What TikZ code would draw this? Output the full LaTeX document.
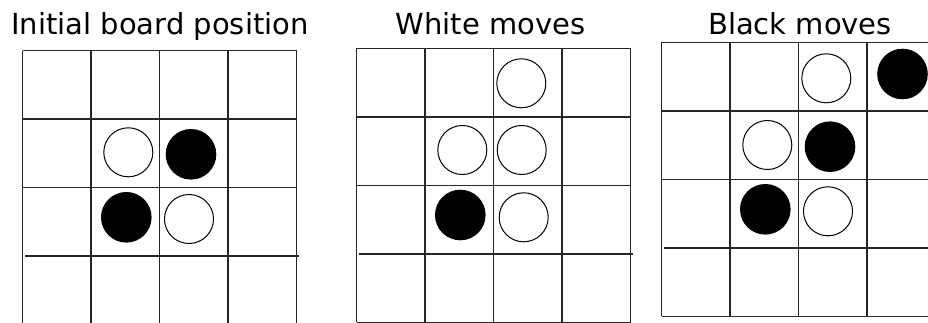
\documentclass[tikz,border=0pt]{standalone}
\usepackage{fontspec}
\setsansfont{DejaVu Sans}

\begin{document}
\begin{tikzpicture}[x=1pt, y=-1pt,
    gridline/.style={draw=black!85, line width=1.5pt},
    title/.style={font=\sffamily\fontsize{29}{34}\selectfont, anchor=base,
                  inner sep=0pt},
    wstone/.style={draw=black, line width=1pt, fill=white},
    bstone/.style={fill=black}]
  \useasboundingbox (0,0) rectangle (928,323);
  \clip (0,0) rectangle (928,323);
  \node[title] (init)  at (160,34.5)   {Initial board position};
  \node[title] (white) at (490.5,34.5) {White moves};
  \node[title] (black) at (800,34.5)   {Black moves};
  \foreach \bx/\by in {22.7/50.7, 356.7/48.3, 661.7/42.3} {
    \foreach \i in {0,...,4}
      \draw[gridline] (\bx+\i*68.5,\by) -- ++(0,274);
    \foreach \j in {0,1,2,4}
      \draw[gridline] (\bx,\by+\j*68.5) -- ++(274,0);
    \draw[gridline] (\bx+2,\by+205.5) -- ++(274.5,0);
  }
  \draw[wstone] (128.3,152.3) circle (24.5);
  \fill[bstone] (191,154.3)   circle (25.3);
  \fill[bstone] (126.3,217.3) circle (25.3);
  \draw[wstone] (189,219)     circle (24.5);
  \draw[wstone] (521.3,83.3)  circle (24.5);
  \draw[wstone] (462.3,150)   circle (24.5);
  \draw[wstone] (521.7,150)   circle (24.5);
  \fill[bstone] (460.3,215)   circle (25.3);
  \draw[wstone] (523.7,217.3) circle (24.5);
  \draw[wstone] (826.3,78.3)  circle (24.5);
  \fill[bstone] (902.5,74)    circle (25.3);
  \draw[wstone] (767.3,145)   circle (24.5);
  \fill[bstone] (830,146.7)   circle (25.3);
  \fill[bstone] (765.3,209.3) circle (25.3);
  \draw[wstone] (828,211.3)   circle (24.5);
\end{tikzpicture}
\end{document}
